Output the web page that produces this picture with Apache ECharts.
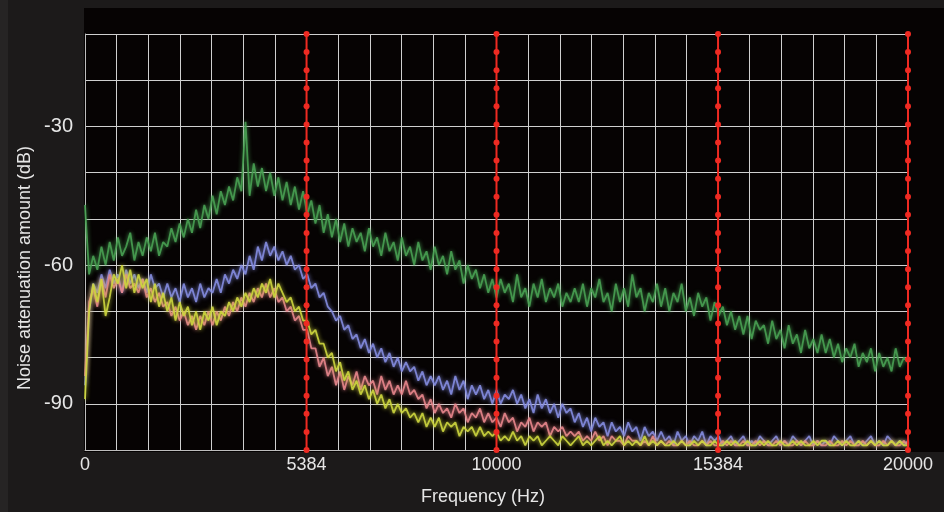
<!DOCTYPE html>
<html>
<head>
<meta charset="utf-8">
<script src="https://cdn.jsdelivr.net/npm/echarts@6/dist/echarts.min.js"></script>
<style>
    html, body { margin: 0; padding: 0; background: #1c1a1a; }
    #chart { width: 944px; height: 512px; }
</style>
</head>
<body>
<div id="chart"></div>
<script>
// 数据 (one value every 100 Hz, 0 .. 20000 Hz)
const binHz = 100;

const greenValues = [
    -47, -62, -58, -61, -56, -60, -55, -59, -54, -58, -56, -53, -59, -55, -58, -54, -57, -53, -58, -55,
    -56, -52, -55, -51, -54, -50, -53, -48, -52, -47, -50, -45, -49, -44, -47, -43, -46, -41, -44, -29,
    -45, -38, -43, -39, -44, -40, -45, -41, -46, -42, -47, -43, -48, -44, -49, -46, -51, -47, -53, -49,
    -54, -50, -55, -51, -56, -52, -55, -53, -57, -52, -56, -54, -58, -53, -57, -55, -59, -54, -58, -56,
    -60, -55, -59, -57, -61, -56, -60, -58, -62, -57, -61, -59, -64, -60, -63, -61, -65, -62, -66, -63,
    -67, -63, -66, -64, -68, -62, -67, -65, -69, -64, -67, -63, -68, -65, -67, -64, -69, -66, -68, -65,
    -68, -64, -69, -65, -67, -63, -68, -66, -70, -64, -68, -65, -69, -62, -67, -65, -70, -66, -68, -64,
    -69, -65, -70, -66, -68, -64, -70, -67, -71, -66, -69, -67, -72, -68, -71, -69, -73, -70, -74, -71,
    -75, -71, -76, -72, -74, -73, -77, -72, -76, -74, -78, -73, -77, -75, -79, -74, -78, -76, -79, -75,
    -79, -76, -80, -77, -81, -78, -80, -77, -82, -79, -81, -78, -83, -79, -82, -80, -83, -78, -82, -80,
    -81
];

const blueValues = [
    -86, -70, -64, -66, -62, -65, -61, -64, -62, -66, -61, -64, -62, -65, -63, -66, -62, -65, -64, -67,
    -64, -67, -65, -68, -64, -67, -65, -68, -64, -67, -65, -66, -63, -66, -62, -64, -61, -63, -60, -62,
    -58, -61, -56, -59, -55, -58, -56, -59, -57, -60, -58, -61, -60, -63, -62, -65, -64, -67, -66, -69,
    -70, -72, -71, -74, -73, -76, -75, -78, -76, -79, -77, -80, -78, -81, -79, -82, -80, -83, -81, -83,
    -82, -85, -83, -86, -84, -86, -84, -87, -85, -88, -84, -87, -85, -89, -86, -88, -86, -89, -87, -90,
    -87, -90, -88, -89, -87, -90, -88, -91, -89, -92, -88, -91, -89, -92, -90, -93, -90, -92, -91, -94,
    -92, -95, -93, -96, -93, -95, -94, -97, -94, -96, -95, -97, -94, -96, -95, -98, -95, -97, -96, -98,
    -96, -98, -97, -99, -96, -98, -97, -99, -97, -98, -96, -99, -97, -98, -97, -99, -98, -97, -99, -98,
    -97, -99, -98, -99, -97, -98, -99, -98, -97, -99, -98, -99, -97, -98, -99, -98, -97, -99, -98, -99,
    -98, -99, -97, -98, -99, -98, -97, -99, -98, -99, -98, -97, -99, -98, -99, -97, -98, -99, -98, -99,
    -98
];

const pinkValues = [
    -84, -68, -65, -69, -63, -67, -62, -65, -63, -66, -62, -65, -64, -66, -63, -67, -65, -68, -66, -69,
    -68, -71, -69, -72, -70, -73, -71, -74, -71, -73, -70, -73, -70, -72, -69, -71, -68, -70, -67, -69,
    -66, -68, -65, -67, -64, -67, -65, -68, -67, -70, -69, -72, -71, -74, -74, -78, -78, -82, -80, -84,
    -82, -86, -83, -87, -84, -86, -83, -87, -84, -86, -85, -88, -84, -87, -85, -88, -86, -88, -85, -88,
    -87, -89, -88, -91, -89, -92, -90, -92, -91, -93, -90, -92, -91, -94, -92, -93, -91, -94, -92, -94,
    -93, -95, -92, -94, -93, -96, -94, -95, -93, -96, -94, -95, -94, -97, -95, -96, -95, -97, -96, -97,
    -96, -98, -97, -98, -96, -98, -97, -99, -97, -98, -98, -99, -97, -98, -98, -99, -98, -99, -97, -99,
    -98, -99, -98, -99, -99, -98, -99, -98, -99, -99, -98, -99, -98, -99, -99, -98, -99, -98, -99, -99,
    -98, -99, -99, -98, -99, -98, -99, -99, -98, -99, -98, -99, -99, -98, -99, -98, -99, -99, -98, -99,
    -99, -98, -99, -99, -98, -99, -98, -99, -99, -98, -99, -98, -99, -99, -98, -99, -98, -99, -99, -98,
    -99
];

const yellowValues = [
    -89, -70, -64, -68, -63, -71, -67, -62, -64, -60, -65, -61, -66, -62, -65, -63, -68, -64, -69, -66,
    -70, -67, -72, -68, -71, -69, -73, -70, -74, -70, -72, -69, -73, -70, -71, -68, -70, -67, -69, -66,
    -68, -65, -67, -64, -66, -63, -67, -64, -66, -68, -67, -70, -69, -72, -72, -75, -74, -77, -77, -80,
    -79, -83, -81, -85, -83, -87, -85, -88, -86, -89, -87, -90, -88, -91, -89, -92, -90, -92, -91, -93,
    -92, -94, -92, -95, -93, -95, -93, -96, -94, -95, -94, -97, -95, -96, -95, -97, -95, -97, -96, -97,
    -96, -98, -97, -98, -96, -98, -97, -99, -97, -98, -97, -99, -98, -97, -98, -99, -97, -98, -99, -98,
    -97, -99, -98, -99, -98, -97, -99, -98, -99, -98, -97, -99, -98, -99, -98, -99, -97, -99, -98, -99,
    -98, -99, -99, -98, -99, -98, -99, -99, -98, -99, -98, -99, -99, -98, -99, -99, -98, -99, -98, -99,
    -99, -98, -99, -99, -98, -99, -98, -99, -99, -98, -99, -99, -98, -99, -98, -99, -99, -98, -99, -98,
    -98, -99, -99, -98, -99, -98, -99, -99, -98, -99, -99, -98, -99, -98, -99, -99, -98, -99, -98, -99,
    -99
];

// red dotted marker lines
const markerFreqs = [5384, 10000, 15384, 20000];

// tick labels
const xTickSteps = [0, 7, 13, 20, 26];
const xTickLabels = ['0', '5384', '10000', '15384', '20000'];
const yTickLabels = [-30, -60, -90];

// 函数
const xStep = 10000 / 13;
const dotCount = 24;

function toPoints(values) {
    return values.map((v, i) => [i * binHz, v]);
}
function markerPoints(f) {
    let pts = [];
    for (let k = 0; k < dotCount; k++) {
        pts.push([f, -10 - k * 90 / (dotCount - 1)]);
    }
    return pts;
}
function noiseSeries(name, values, color) {
    return {
        name: name,
        type: 'line',
        data: toPoints(values),
        showSymbol: false,
        lineStyle: { color: color, width: 1.8, opacity: 0.9, shadowBlur: 4, shadowColor: color },
        itemStyle: { color: color },
        silent: true
    };
}

var myChart = echarts.init(document.getElementById('chart'));
myChart.setOption({
    animation: false,
    backgroundColor: '#1c1a1a',
    textStyle: { fontFamily: 'Liberation Sans, Arial, sans-serif' },
    graphic: [
        { type: 'rect', z: -10, shape: { x: 84, y: 8, width: 860, height: 444 }, style: { fill: '#060303' }, silent: true },
        { type: 'rect', z: -10, shape: { x: 0, y: 0, width: 8, height: 512 }, style: { fill: '#262424' }, silent: true },
        {
            type: 'text', x: 25, y: 268, rotation: Math.PI / 2,
            style: {
                text: 'Noise attenuation amount (dB)',
                fill: '#e6e6e6',
                font: '18px "Liberation Sans", Arial, sans-serif',
                textAlign: 'center',
                textVerticalAlign: 'middle'
            }
        }
    ],
    grid: { left: 85, right: 36, top: 34, bottom: 62 },
    xAxis: {
        type: 'value',
        min: 0,
        max: 20000,
        interval: xStep,
        name: 'Frequency (Hz)',
        nameLocation: 'middle',
        nameGap: 38,
        nameTextStyle: { color: '#e6e6e6', fontSize: 18, padding: [0, 27, 0, 0] },
        axisLine: { show: true, lineStyle: { color: '#bdbdbd', width: 1 } },
        axisTick: { show: false },
        axisLabel: {
            color: '#e6e6e6',
            fontSize: 18,
            margin: 6,
            showMaxLabel: true,
            formatter: function (v) {
                let idx = Math.round(v / xStep);
                let pos = xTickSteps.indexOf(idx);
                return pos >= 0 ? xTickLabels[pos] : '';
            }
        },
        splitLine: { show: true, lineStyle: { color: '#cfcfcf', width: 1 } }
    },
    yAxis: {
        type: 'value',
        min: -100,
        max: -10,
        interval: 10,
        axisLine: { show: true, lineStyle: { color: '#bdbdbd', width: 1 } },
        axisTick: { show: false },
        axisLabel: {
            color: '#e6e6e6',
            fontSize: 20,
            margin: 12,
            formatter: function (v) {
                return yTickLabels.indexOf(Math.round(v)) >= 0 ? String(Math.round(v)) : '';
            }
        },
        splitLine: { show: true, lineStyle: { color: '#cfcfcf', width: 1 } }
    },
    series: [
        noiseSeries('green', greenValues, '#48a052'),
        noiseSeries('blue', blueValues, '#848ce0'),
        noiseSeries('pink', pinkValues, '#e8868c'),
        noiseSeries('yellow', yellowValues, '#cdd63e')
    ].concat(markerFreqs.map(f => ({
        type: 'line',
        data: markerPoints(f),
        clip: false,
        symbol: 'circle',
        symbolSize: 6,
        showSymbol: true,
        lineStyle: { color: '#ee2a22', width: 2 },
        itemStyle: { color: '#ee2a22' },
        silent: true,
        z: 5
    })))
});
</script>
</body>
</html>
